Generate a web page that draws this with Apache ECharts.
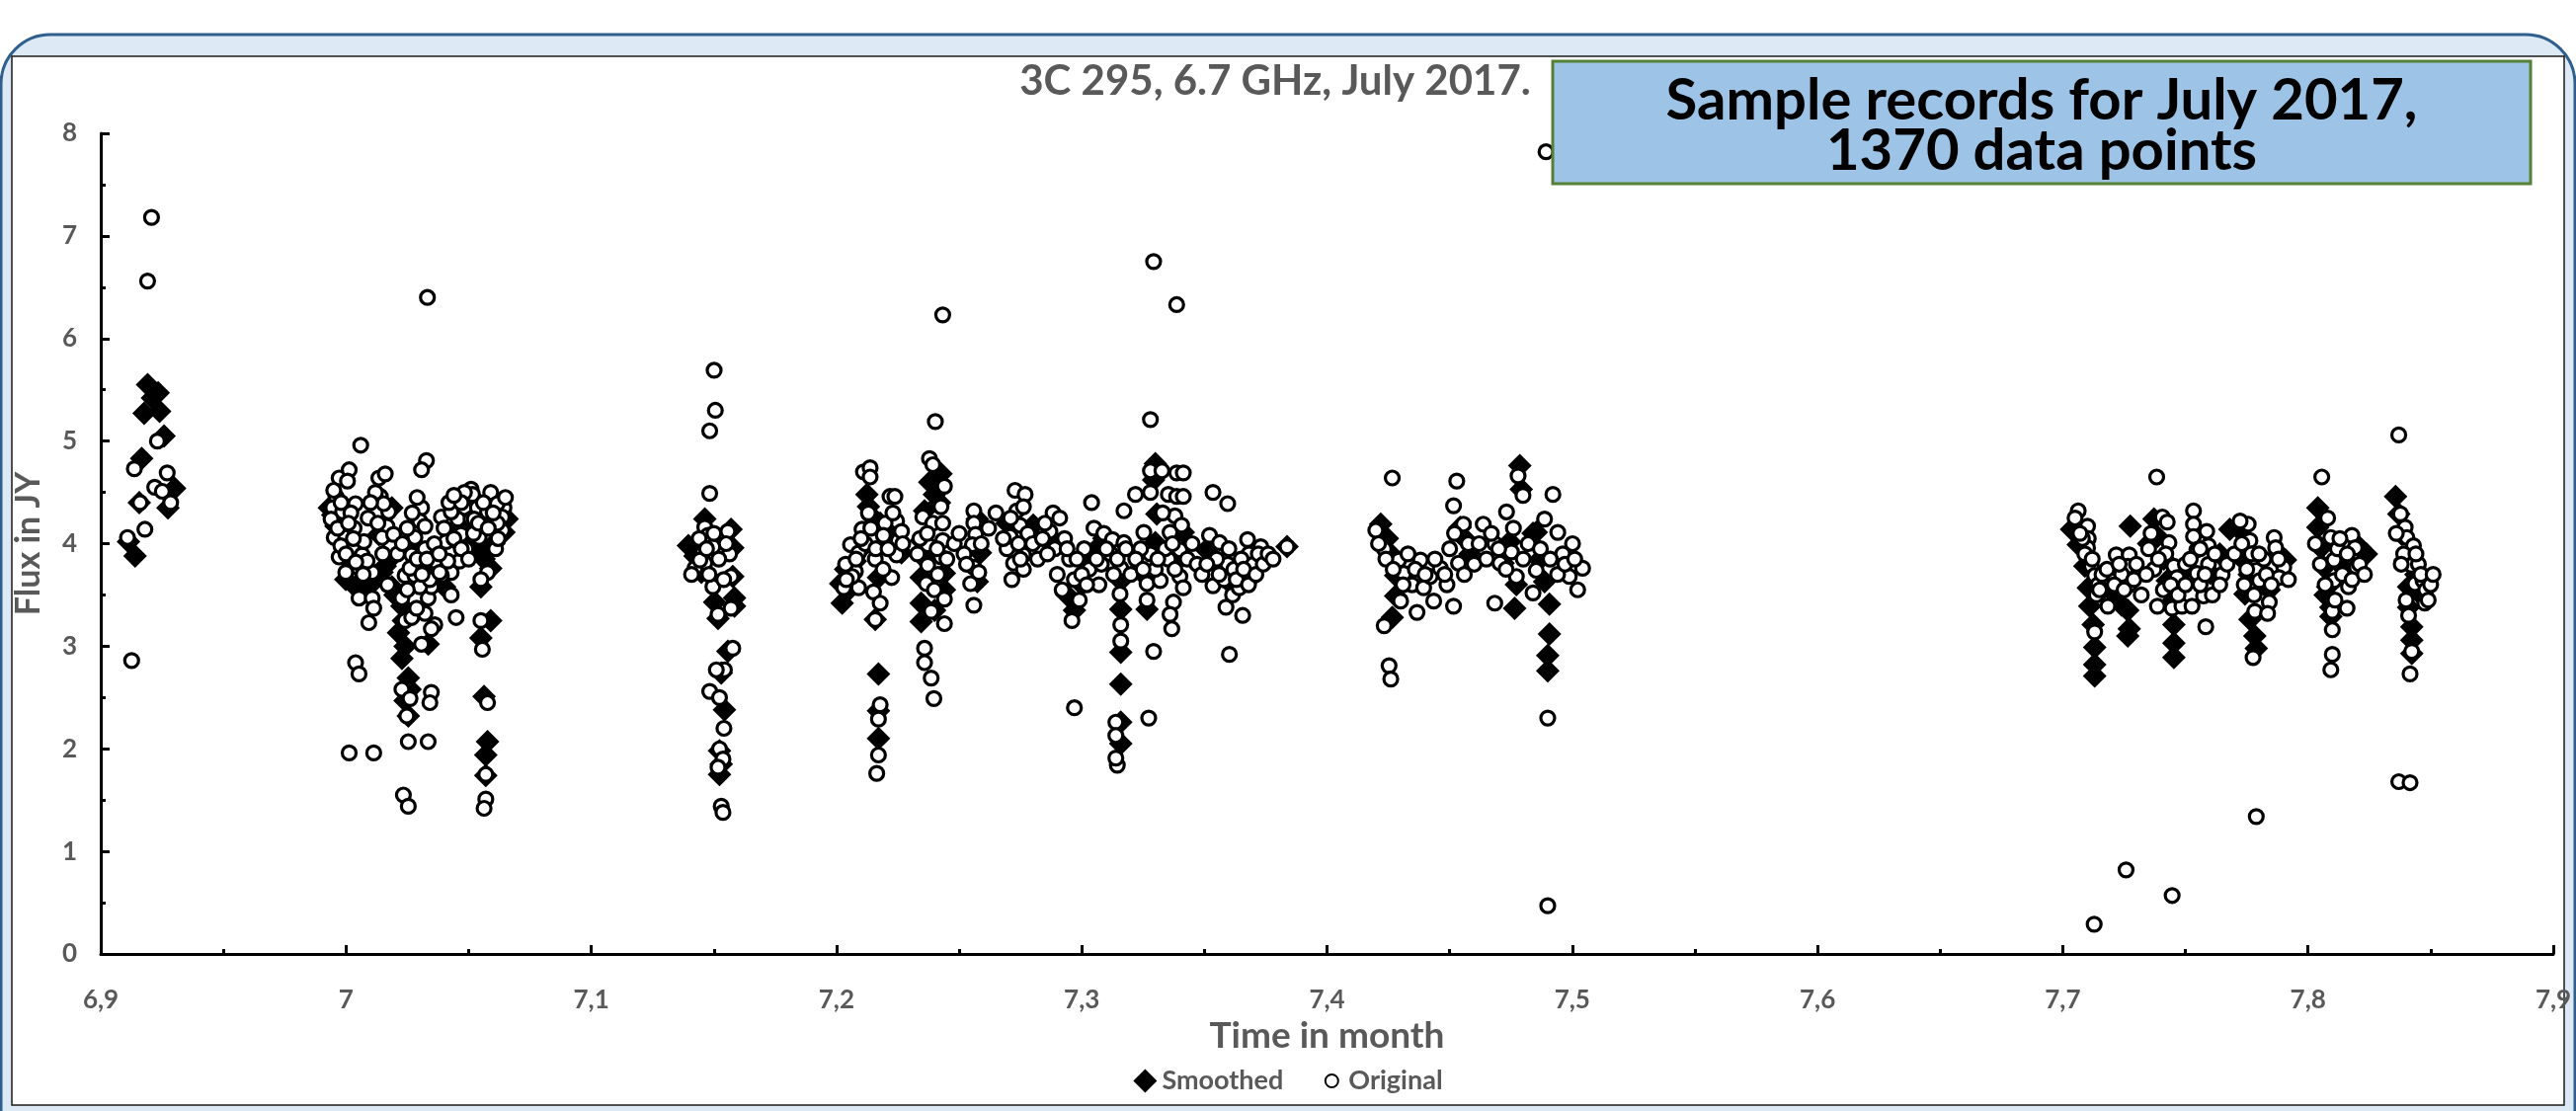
<!DOCTYPE html>
<html>
<head>
<meta charset="utf-8">
<title>3C 295, 6.7 GHz, July 2017</title>
<script src="https://cdn.jsdelivr.net/npm/echarts@6/dist/echarts.min.js"></script>
<style>
  html, body { margin: 0; padding: 0; background: #fff; }
  #chart { width: 2608px; height: 1125px; }
</style>
</head>
<body>
<div id="chart"></div>
<script>
// flux readings [time in month, flux in Jy], grouped by observing session
const originalS1 = [[6.9207,7.18],[6.9191,6.56],[6.9126,2.86],[6.9109,4.06],[6.9180,4.14],[6.9137,4.73],[6.9160,4.40],[6.9231,5.00],[6.9220,4.55],[6.9251,4.51],[6.9271,4.69],[6.9285,4.40]];
const smoothedS1 = [[6.9140,3.88],[6.9113,4.02],[6.9157,4.40],[6.9167,4.83],[6.9177,5.27],[6.9191,5.55],[6.9234,5.47],[6.9240,5.29],[6.9258,5.05],[6.9301,4.54],[6.9274,4.35],[6.9211,5.42]];

const originalS2 = [[7.0332,6.40],[7.0060,4.96],[7.0328,4.81],[7.0308,4.72],[6.9972,4.64],[7.0013,4.72],[6.9959,4.46],[7.0006,4.61],[6.9946,4.35],[6.9986,4.31],[7.0039,4.39],[6.9952,4.06],[6.9999,4.06],[6.9972,3.87],[7.0026,3.95],[7.0066,3.89],[7.0053,3.76],[7.0107,3.72],[6.9999,3.72],[7.0053,3.47],[7.0107,3.47],[7.0113,3.37],[7.0093,3.23],[7.0134,4.64],[7.0160,4.68],[7.0140,4.46],[7.0174,4.31],[7.0167,4.17],[7.0181,3.98],[7.0147,4.06],[7.0308,4.35],[7.0301,4.22],[7.0389,4.26],[7.0281,4.06],[7.0322,3.95],[7.0268,3.89],[7.0241,3.69],[7.0281,3.69],[7.0335,3.47],[7.0362,3.83],[7.0322,3.32],[7.0308,3.02],[7.0362,3.21],[7.0228,3.47],[7.0241,3.25],[7.0268,3.28],[7.0228,2.58],[7.0261,2.49],[7.0248,2.32],[7.0348,2.55],[7.0342,2.45],[7.0254,2.07],[7.0335,2.07],[7.0234,1.55],[7.0254,1.44],[7.0039,2.84],[7.0053,2.73],[7.0013,1.96],[7.0113,1.96],[7.0510,4.53],[7.0516,4.48],[7.0483,4.35],[7.0536,4.35],[7.0456,4.24],[7.0510,4.24],[7.0543,4.06],[7.0489,3.95],[7.0463,3.83],[7.0429,3.72],[7.0429,3.50],[7.0449,3.28],[7.0590,4.50],[7.0644,4.35],[7.0637,4.26],[7.0637,4.13],[7.0610,3.95],[7.0577,3.72],[7.0550,3.65],[7.0550,3.25],[7.0556,2.97],[7.0577,2.45],[7.0570,1.75],[7.0570,1.51],[7.0563,1.42],[7.0389,3.69],[7.0348,3.58],[7.0429,4.31],[7.0483,4.50],[6.9939,4.24],[6.9966,4.15],[6.9979,3.98],[7.0020,4.30],[7.0033,4.15],[7.0073,4.02],[7.0086,3.83],[7.0120,4.50],[7.0154,4.39],[7.0194,4.09],[7.0261,3.76],[7.0301,3.58],[7.0342,3.65],[7.0382,3.72],[7.0415,3.83],[7.0409,4.02],[7.0469,4.09],[7.0523,4.24],[7.0577,4.31],[7.0617,4.20],[7.0617,4.39],[7.0322,4.17],[7.0288,3.37],[7.0348,3.17],
  [6.9950,4.52],[6.9980,4.40],[7.0010,4.20],[7.0030,4.05],[7.0000,3.90],[7.0040,3.82],[7.0070,3.70],[7.0090,4.25],[7.0100,4.40],[7.0130,4.20],[7.0150,3.90],[7.0170,3.60],[7.0210,3.90],[7.0230,4.00],[7.0250,4.15],[7.0270,4.30],[7.0290,4.45],[7.0250,3.55],[7.0290,3.85],[7.0310,3.70],[7.0330,3.85],[7.0360,4.00],[7.0380,3.90],[7.0400,4.15],[7.0420,4.40],[7.0440,4.05],[7.0470,3.95],[7.0500,3.85],[7.0520,4.10],[7.0540,4.20],[7.0560,4.40],[7.0580,4.15],[7.0600,4.30],[7.0620,4.05],[7.0650,4.45],[7.0470,4.40],[7.0440,4.47]];
const smoothedS2 = [[6.9932,4.35],[6.9959,4.17],[6.9986,4.02],[7.0013,3.83],[6.9999,3.65],[7.0039,3.58],[7.0080,3.58],[7.0120,3.65],[7.0147,3.72],[7.0134,4.09],[7.0187,4.35],[7.0187,3.87],[7.0187,3.58],[7.0228,3.39],[7.0214,3.13],[7.0228,2.88],[7.0254,2.69],[7.0241,2.47],[7.0254,2.32],[7.0335,3.02],[7.0322,3.65],[7.0348,3.72],[7.0295,3.95],[7.0429,4.09],[7.0483,4.09],[7.0536,3.95],[7.0402,3.58],[7.0550,3.95],[7.0590,3.76],[7.0550,3.58],[7.0590,3.25],[7.0550,3.08],[7.0563,2.51],[7.0577,2.07],[7.0570,1.94],[7.0570,1.74],[7.0644,4.11],[7.0657,4.24],[6.9946,4.28],[7.0006,3.90],[7.0060,3.62],[7.0100,3.60],[7.0160,3.78],[7.0200,3.50],[7.0234,3.25],[7.0241,3.00],[7.0261,2.58],[7.0301,3.80],[7.0362,3.76],[7.0456,4.02],[7.0510,4.00],[7.0563,3.85],[7.0603,4.00],[7.0617,4.20]];

const originalS3 = [[7.1501,5.69],[7.1506,5.30],[7.1483,5.10],[7.1483,4.49],[7.1463,4.16],[7.1476,4.08],[7.1496,3.97],[7.1557,4.12],[7.1564,3.90],[7.1456,3.92],[7.1463,3.81],[7.1423,3.76],[7.1409,3.70],[7.1496,3.58],[7.1570,3.68],[7.1570,3.37],[7.1517,3.31],[7.1443,3.84],[7.1577,2.98],[7.1543,2.77],[7.1510,2.77],[7.1483,2.56],[7.1523,2.50],[7.1541,2.20],[7.1523,2.00],[7.1537,1.90],[7.1517,1.82],[7.1530,1.44],[7.1537,1.38],
  [7.1440,4.05],[7.1470,3.95],[7.1500,4.10],[7.1520,3.85],[7.1540,3.65],[7.1480,3.70],[7.1550,4.00]];
const smoothedS3 = [[7.1463,4.24],[7.1396,3.98],[7.1423,3.88],[7.1449,3.72],[7.1570,4.14],[7.1577,3.96],[7.1577,3.68],[7.1584,3.47],[7.1584,3.39],[7.1517,3.27],[7.1503,3.43],[7.1557,2.95],[7.1530,2.74],[7.1543,2.38],[7.1523,1.98],[7.1530,1.85],[7.1523,1.75]];

const originalS4 = [[7.2433,6.23],[7.2403,5.19],[7.2110,4.70],[7.2137,4.74],[7.2137,4.65],[7.2218,4.46],[7.2238,4.46],[7.2379,4.83],[7.2393,4.77],[7.2440,4.56],[7.2426,4.36],[7.2130,4.30],[7.2245,4.22],[7.2198,4.20],[7.2104,4.14],[7.2252,4.03],[7.2352,4.26],[7.2393,4.20],[7.2433,4.20],[7.2151,4.05],[7.2057,3.99],[7.2090,3.91],[7.2245,3.89],[7.2372,3.99],[7.2433,4.03],[7.2158,3.85],[7.2077,3.73],[7.2030,3.57],[7.2090,3.57],[7.2372,3.79],[7.2426,3.87],[7.2225,3.67],[7.2151,3.53],[7.2178,3.42],[7.2366,3.61],[7.2399,3.55],[7.2440,3.46],[7.2386,3.34],[7.2440,3.22],[7.2158,3.26],[7.2359,2.98],[7.2359,2.84],[7.2386,2.69],[7.2397,2.49],[7.2178,2.43],[7.2171,2.29],[7.2171,1.94],[7.2164,1.76],[7.2560,4.32],[7.2560,4.20],[7.2567,4.09],[7.2554,3.99],[7.2560,3.77],[7.2547,3.61],[7.2560,3.40],[7.2728,4.52],[7.2769,4.48],[7.2735,4.32],[7.2762,4.36],[7.2748,4.18],[7.2708,4.07],[7.2762,3.89],[7.2722,3.81],[7.2762,3.75],[7.2715,3.65],[7.2883,4.30],[7.2870,4.12],[7.2037,3.80],[7.2064,3.68],[7.2117,4.00],[7.2191,4.08],[7.2265,4.12],[7.2340,4.05],[7.2413,3.70],[7.2520,3.90],[7.2580,3.72],[7.2695,3.95],[7.2742,4.00],[7.2850,4.20],[7.2890,3.95],
  [7.2910,4.25],[7.2930,4.05],[7.2950,3.85],[7.2970,3.65],[7.2990,3.45],[7.2960,3.25],[7.2970,2.40],[7.3010,3.95],[7.3030,3.75],[7.3050,4.15],[7.3070,3.60],[7.3040,4.40],[7.3080,3.80],[7.3090,4.10],[7.2920,3.55],[7.3000,3.70],
  [7.3293,6.75],[7.3387,6.33],[7.3280,5.21],[7.3280,4.71],[7.3327,4.71],[7.3387,4.69],[7.3414,4.69],[7.3219,4.48],[7.3280,4.50],[7.3353,4.48],[7.3387,4.46],[7.3414,4.46],[7.3172,4.32],[7.3380,4.27],[7.3407,4.18],[7.3253,4.11],[7.3360,4.11],[7.3125,4.04],[7.3172,4.01],[7.3280,3.90],[7.3118,3.90],[7.3353,3.85],[7.3400,3.94],[7.3159,3.76],[7.3400,3.68],[7.3414,3.57],[7.3266,3.61],[7.3320,3.64],[7.3156,3.51],[7.3266,3.45],[7.3374,3.43],[7.3360,3.31],[7.3367,3.17],[7.3159,3.21],[7.3159,3.05],[7.3293,2.95],[7.3273,2.30],[7.3139,2.26],[7.3139,2.13],[7.3145,1.84],[7.3139,1.91],[7.3535,4.50],[7.3595,4.39],[7.3521,4.08],[7.3562,4.01],[7.3595,3.80],[7.3535,3.59],[7.3588,3.38],[7.3656,3.30],[7.3615,3.50],[7.3642,3.57],[7.3676,4.04],[7.3682,3.90],[7.3696,3.68],[7.3730,3.97],[7.3602,2.92],[7.3837,3.97],[7.3145,3.85],[7.3200,3.70],[7.3240,3.95],[7.3300,3.75],[7.3340,3.95],[7.3380,3.75],[7.3550,3.85],[7.3580,3.65],[7.3620,3.75],[7.3650,3.85],[7.3700,3.80],[7.3720,3.90],
  [7.2040,3.65],[7.2080,3.85],[7.2100,4.05],[7.2140,4.15],[7.2160,3.95],[7.2190,3.75],[7.2210,3.95],[7.2230,4.30],[7.2270,4.00],[7.2330,3.90],[7.2370,4.10],[7.2410,3.95],[7.2450,3.85],[7.2480,4.00],[7.2500,4.10],[7.2530,3.80],[7.2590,4.00],[7.2620,4.15],[7.2650,4.30],[7.2680,4.05],[7.2710,4.25],[7.2750,3.85],[7.2780,4.10],[7.2800,4.00],[7.2820,3.85],[7.2840,4.05],[7.2860,3.90],[7.2900,3.70],[7.2940,3.95],[7.2980,3.85],[7.3020,3.60],[7.3060,3.85],[7.3100,3.95],[7.3130,3.70],[7.3180,3.95],[7.3220,3.85],[7.3250,3.75],[7.3310,3.85],[7.3330,4.30],[7.3370,4.00],[7.3430,3.85],[7.3450,4.00],[7.3470,3.80],[7.3490,3.70],[7.3510,3.80],[7.3560,3.70],[7.3600,3.95],[7.3630,3.65],[7.3660,3.75],[7.3680,3.60],[7.3710,3.70],[7.3740,3.80],[7.3760,3.90],[7.3780,3.85]];
const smoothedS4 = [[7.2023,3.42],[7.2017,3.61],[7.2037,3.75],[7.2077,3.83],[7.2117,4.07],[7.2130,4.36],[7.2124,4.48],[7.2178,4.20],[7.2171,3.67],[7.2158,3.26],[7.2171,2.73],[7.2171,2.37],[7.2171,2.10],[7.2265,3.91],[7.2238,4.12],[7.2426,4.68],[7.2399,4.48],[7.2359,4.32],[7.2345,4.03],[7.2345,3.67],[7.2345,3.42],[7.2345,3.24],[7.2440,3.71],[7.2440,3.55],[7.2574,4.24],[7.2587,3.91],[7.2574,3.63],[7.2695,4.20],[7.2708,3.99],[7.2802,4.18],[7.2870,4.07],
  [7.2050,3.55],[7.2100,3.95],[7.2150,4.25],[7.2200,4.00],[7.2380,4.60],[7.2420,4.40],[7.2360,3.85],[7.2400,3.35],
  [7.2940,3.50],[7.2970,3.35],[7.3000,3.60],[7.3030,3.80],[7.3060,3.95],[7.3090,4.05],[7.2920,4.00],
  [7.3300,4.78],[7.3293,4.62],[7.3306,4.29],[7.3300,4.01],[7.3260,3.68],[7.3266,3.36],[7.3159,3.64],[7.3159,3.36],[7.3159,2.94],[7.3159,2.63],[7.3159,2.26],[7.3159,2.05],[7.3387,3.83],[7.3414,4.11],[7.3508,3.94],[7.3548,3.83],[7.3575,3.68],[7.3615,3.59],[7.3696,3.87],[7.3736,3.92],[7.3837,3.97]];

const originalS5 = [[7.4266,4.64],[7.4253,2.81],[7.4260,2.68],[7.4199,4.13],[7.4233,3.95],[7.4293,3.84],[7.4313,3.71],[7.4347,3.60],[7.4300,3.44],[7.4233,3.20],[7.4394,3.57],[7.4381,3.84],[7.4421,3.68],[7.4462,3.76],[7.4489,3.60],[7.4435,3.44],[7.4367,3.33],[7.4529,4.61],[7.4516,4.37],[7.4556,4.19],[7.4576,4.00],[7.4536,3.81],[7.4516,3.39],[7.4637,4.19],[7.4684,4.00],[7.4705,3.81],[7.4752,3.92],[7.4684,3.42],[7.4772,3.68],[7.4779,4.66],[7.4799,4.47],[7.4732,4.31],[7.4840,3.52],[7.4893,7.82],[7.4921,4.48],[7.4887,4.24],[7.4941,4.11],[7.4961,3.90],[7.4988,3.68],[7.5022,3.55],[7.4853,3.74],[7.4900,2.30],[7.4900,0.47],[7.5042,3.76],[7.5001,4.00],
  [7.4210,4.00],[7.4240,3.85],[7.4270,3.75],[7.4310,3.60],[7.4330,3.90],[7.4360,3.75],[7.4400,3.70],[7.4440,3.85],[7.4480,3.70],[7.4500,3.95],[7.4520,4.10],[7.4560,3.70],[7.4600,3.80],[7.4620,4.00],[7.4650,3.85],[7.4670,4.10],[7.4700,3.95],[7.4730,3.75],[7.4760,4.15],[7.4800,3.85],[7.4820,4.00],[7.4870,3.95],[7.4910,3.85],[7.4940,3.70],[7.4970,3.80],[7.5010,3.85]];
const smoothedS5 = [[7.4219,4.19],[7.4246,4.05],[7.4260,3.90],[7.4280,3.69],[7.4280,3.49],[7.4266,3.28],[7.4543,4.16],[7.4570,4.03],[7.4583,3.90],[7.4786,4.76],[7.4792,4.53],[7.4745,4.02],[7.4718,3.81],[7.4772,3.60],[7.4765,3.37],[7.4840,4.10],[7.4853,4.11],[7.4866,3.84],[7.4887,3.63],[7.4907,3.41],[7.4907,3.12],[7.4900,2.91],[7.4900,2.76]];

const originalS6 = [[7.7383,4.65],[7.7063,4.32],[7.7101,4.17],[7.7104,4.05],[7.7101,3.96],[7.7117,3.78],[7.7130,3.69],[7.7144,3.60],[7.7137,3.50],[7.7184,3.39],[7.7130,3.14],[7.7218,3.89],[7.7271,3.89],[7.7265,3.78],[7.7271,3.60],[7.7198,3.64],[7.7372,3.75],[7.7386,3.39],[7.7406,4.26],[7.7426,4.21],[7.7433,4.01],[7.7453,3.78],[7.7466,3.67],[7.7446,3.37],[7.7486,3.39],[7.7527,3.39],[7.7533,4.32],[7.7533,4.19],[7.7533,4.07],[7.7547,3.94],[7.7547,3.71],[7.7587,4.12],[7.7594,3.98],[7.7594,3.80],[7.7574,3.49],[7.7583,3.19],[7.7258,0.82],[7.7446,0.57],[7.7128,0.29],[7.7050,4.25],[7.7080,4.05],[7.7160,3.70],[7.7240,3.70],[7.7300,3.80],[7.7350,3.95],[7.7420,3.90],[7.7500,3.80],[7.7560,3.60],[7.7620,3.90],[7.7650,3.70],
  [7.7756,4.19],[7.7763,4.03],[7.7769,3.90],[7.7789,3.74],[7.7802,3.64],[7.7783,3.34],[7.7842,3.43],[7.7862,4.06],[7.7868,3.96],[7.7901,3.77],[7.7882,3.67],[7.7835,3.32],[7.7776,2.89],[7.7789,1.34],[7.7723,4.22],[7.8056,4.65],[7.8080,4.25],[7.8093,4.06],[7.8106,3.84],[7.8106,3.64],[7.8099,3.34],[7.8099,3.16],[7.8099,2.92],[7.8093,2.77],[7.8179,4.08],[7.8192,3.96],[7.8198,3.77],[7.8165,3.58],[7.8159,3.37],[7.8370,5.06],[7.8377,4.29],[7.8396,4.16],[7.8403,4.06],[7.8430,3.98],[7.8423,3.79],[7.8436,3.61],[7.8469,3.64],[7.8476,3.42],[7.8423,2.95],[7.8416,2.73],[7.8370,1.68],[7.8416,1.67],[7.7740,3.60],[7.7820,3.85],[7.8120,3.95],[7.8140,3.70],[7.8390,3.90],[7.8450,3.80],[7.8480,3.55],[7.8500,3.60],
  [7.7070,4.10],[7.7090,3.90],[7.7120,3.85],[7.7150,3.55],[7.7180,3.75],[7.7210,3.60],[7.7230,3.80],[7.7250,3.55],[7.7290,3.65],[7.7320,3.50],[7.7340,3.70],[7.7360,4.10],[7.7390,3.85],[7.7410,3.55],[7.7440,3.60],[7.7470,3.50],[7.7500,3.60],[7.7520,3.85],[7.7560,3.95],[7.7580,3.70],[7.7610,3.50],[7.7640,3.60],[7.7670,3.80],[7.7700,3.90],[7.7730,4.00],[7.7750,3.75],[7.7780,3.50],[7.7800,3.90],[7.7830,3.70],[7.7850,3.60],[7.7880,3.85],[7.7920,3.65],[7.8030,4.00],[7.8050,3.80],[7.8070,3.60],[7.8110,3.45],[7.8130,4.05],[7.8160,3.90],[7.8180,3.65],[7.8210,3.80],[7.8230,3.70],[7.8360,4.10],[7.8380,3.80],[7.8400,3.45],[7.8410,3.30],[7.8440,3.90],[7.8460,3.70],[7.8490,3.45],[7.8510,3.70]];
const smoothedS6 = [[7.7036,4.14],[7.7063,3.99],[7.7090,3.78],[7.7104,3.57],[7.7110,3.39],[7.7124,3.21],[7.7130,2.99],[7.7130,2.82],[7.7130,2.71],[7.7275,4.17],[7.7218,3.49],[7.7265,3.35],[7.7271,3.17],[7.7265,3.10],[7.7372,4.24],[7.7386,4.07],[7.7412,3.85],[7.7426,3.64],[7.7439,3.42],[7.7453,3.21],[7.7453,3.03],[7.7453,2.89],[7.7601,3.71],[7.7681,4.14],[7.7160,3.55],[7.7240,3.40],[7.7350,4.00],[7.7500,3.75],[7.7640,3.90],
  [7.7723,4.13],[7.7736,3.84],[7.7743,3.51],[7.7763,3.26],[7.7783,3.10],[7.7789,2.98],[7.7882,3.90],[7.7908,3.84],[7.7842,3.55],[7.8040,4.35],[7.8040,4.16],[7.8053,3.96],[7.8066,3.77],[7.8080,3.58],[7.8093,3.38],[7.8093,3.29],[7.8212,3.96],[7.8238,3.90],[7.8357,4.46],[7.8370,4.29],[7.8383,4.09],[7.8396,3.84],[7.8410,3.58],[7.8410,3.38],[7.8423,3.19],[7.8423,3.06],[7.8423,2.93],[7.7760,3.70],[7.8070,3.50],[7.8150,3.75],[7.8440,3.70],[7.8460,3.50]];

const original = [].concat(originalS1, originalS2, originalS3, originalS4, originalS5, originalS6);
const smoothed = [].concat(smoothedS1, smoothedS2, smoothedS3, smoothedS4, smoothedS5, smoothedS6);

const W = 2608, H = 1125;
const textGray = '#595959';
const font = 'Lato, "Open Sans", sans-serif';

const chart = echarts.init(document.getElementById('chart'), null, { renderer: 'canvas' });

const option = {
  animation: false,
  backgroundColor: '#ffffff',
  textStyle: { fontFamily: font },
  grid: { left: 102, right: 23, top: 135, bottom: 159, containLabel: false },
  graphic: [
    // outer rounded panel
    { type: 'rect', z: -20, shape: { x: 1, y: 35, width: W - 2, height: H + 40, r: 50 },
      style: { fill: '#dde9f5', stroke: '#2f5f8c', lineWidth: 3 } },
    // white plot area
    { type: 'rect', z: -10, shape: { x: 12, y: 57, width: W - 24, height: 1062 },
      style: { fill: '#ffffff', stroke: '#1a1a1a', lineWidth: 1.5 } },
    // chart title
    { type: 'text', z: 50, x: 1291, y: 82,
      style: { text: '3C 295, 6.7 GHz, July 2017.', fill: textGray, font: 'bold 42px ' + font,
        textAlign: 'center', textVerticalAlign: 'middle' } },
    // annotation box
    { type: 'rect', z: 60, shape: { x: 1572, y: 62, width: 990, height: 124 },
      style: { fill: '#9dc3e6', stroke: '#548235', lineWidth: 3 } },
    { type: 'text', z: 61, x: 2067, y: 102,
      style: { text: 'Sample records for July 2017,', fill: '#000', font: 'bold 58px ' + font,
        textAlign: 'center', textVerticalAlign: 'middle' } },
    { type: 'text', z: 61, x: 2067, y: 153,
      style: { text: '1370 data points', fill: '#000', font: 'bold 58px ' + font,
        textAlign: 'center', textVerticalAlign: 'middle' } }
  ],
  legend: {
    bottom: 12,
    left: 'center',
    itemGap: 36,
    itemWidth: 24,
    itemHeight: 24,
    textStyle: { color: textGray, fontWeight: 'bold', fontSize: 27, fontFamily: font },
    data: [
      { name: 'Smoothed', icon: 'diamond' },
      { name: 'Original', icon: 'path://M0,0M24,24M12,5.5A6.5,6.5,0,1,1,11.99,5.5Z' }
    ]
  },
  xAxis: {
    type: 'value',
    min: 6.9, max: 7.9, interval: 0.1,
    name: 'Time in month',
    nameLocation: 'middle',
    nameGap: 62,
    nameTextStyle: { color: textGray, fontWeight: 'bold', fontSize: 37, fontFamily: font },
    axisLine: { show: true, lineStyle: { color: '#000', width: 3 } },
    axisTick: { show: true, inside: true, length: 9, lineStyle: { color: '#000', width: 3 } },
    minorTick: { show: true, splitNumber: 2, length: 5, lineStyle: { color: '#000', width: 3 } },
    splitLine: { show: false },
    axisLabel: {
      margin: 34, color: textGray, fontWeight: 'bold', fontSize: 26, fontFamily: font,
      formatter: v => (Math.round(v * 10) / 10).toString().replace('.', ',')
    }
  },
  yAxis: {
    type: 'value',
    min: 0, max: 8, interval: 1,
    name: 'Flux in JY',
    nameLocation: 'middle',
    nameGap: 56,
    nameRotate: 90,
    nameTextStyle: { color: textGray, fontWeight: 'bold', fontSize: 34, fontFamily: font },
    axisLine: { show: true, lineStyle: { color: '#000', width: 3 } },
    axisTick: { show: true, inside: true, length: 9, lineStyle: { color: '#000', width: 3 } },
    minorTick: { show: true, splitNumber: 2, length: 5, lineStyle: { color: '#000', width: 3 } },
    splitLine: { show: false },
    axisLabel: { margin: 24, color: textGray, fontWeight: 'bold', fontSize: 26, fontFamily: font }
  },
  series: [
    {
      name: 'Smoothed',
      type: 'scatter',
      symbol: 'diamond',
      symbolSize: 24,
      itemStyle: { color: '#000000', opacity: 1 },
      data: smoothed,
      z: 2
    },
    {
      name: 'Original',
      type: 'scatter',
      symbol: 'circle',
      symbolSize: 14,
      itemStyle: { color: '#ffffff', borderColor: '#000000', borderWidth: 3.2, opacity: 1 },
      data: original,
      z: 3
    }
  ]
};

chart.setOption(option);
</script>
</body>
</html>
